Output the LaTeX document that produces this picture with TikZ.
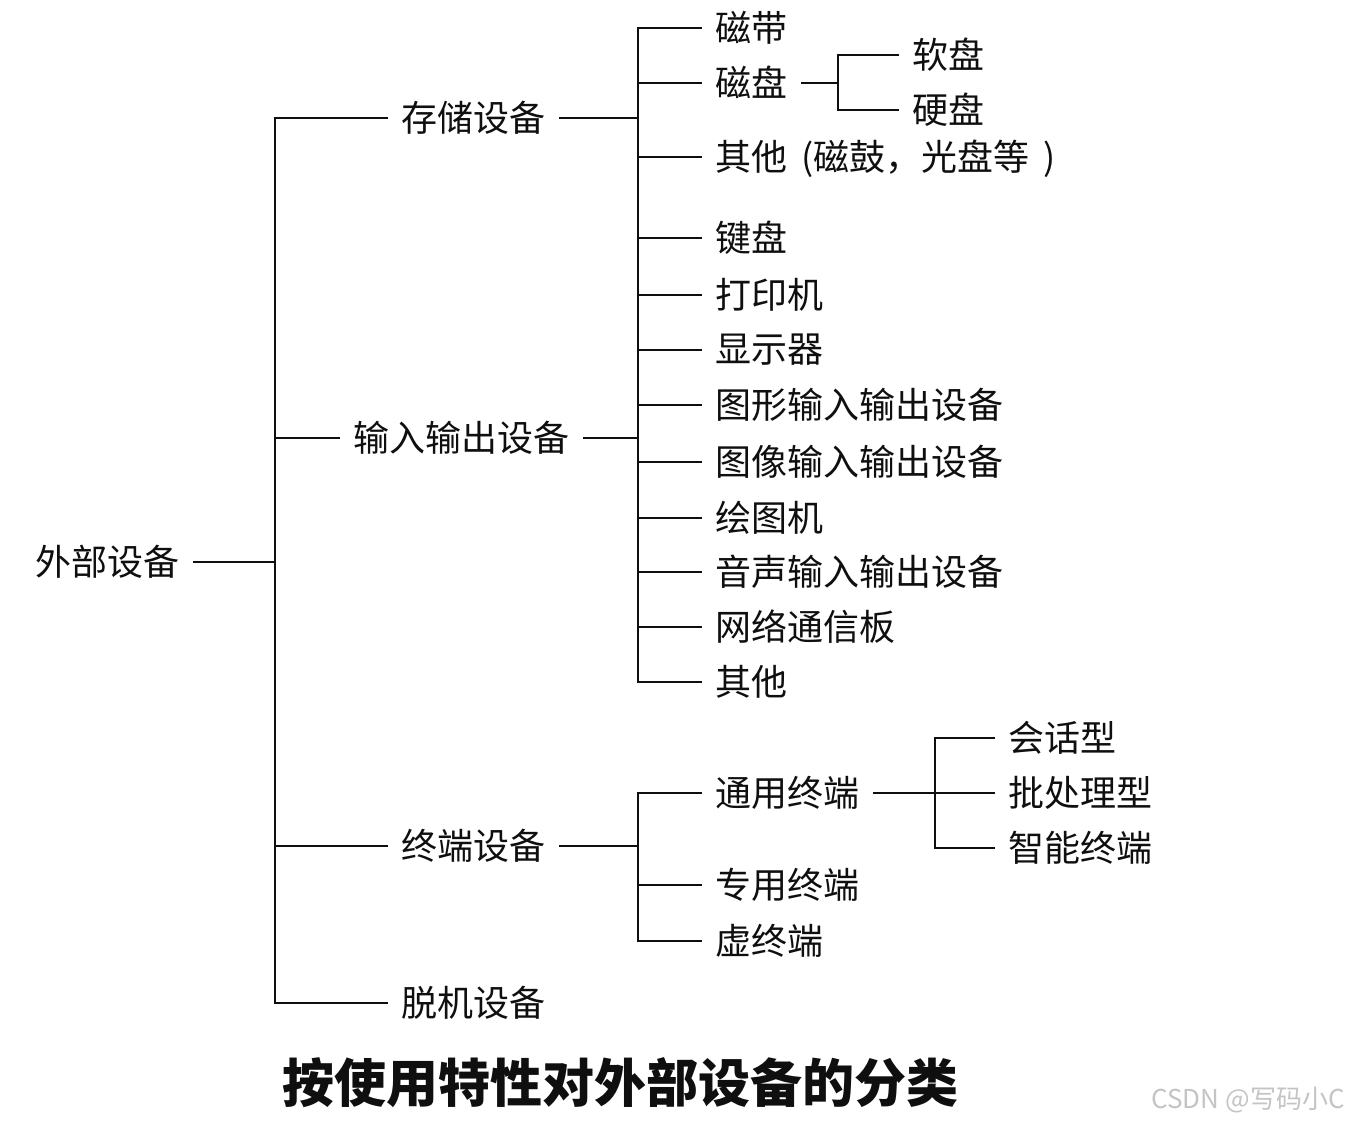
\documentclass[tikz,border=0pt]{standalone}
\usepackage{fontspec}
\newfontfamily\cjk{Noto Sans CJK SC}
\usepackage{xcolor}
\definecolor{ink}{RGB}{15,15,15}
\definecolor{faint}{RGB}{196,196,196}
\usepackage{tikz}
\usetikzlibrary{positioning,calc}

\begin{document}
\begin{tikzpicture}[
  x=0.5pt, y=-0.5pt,
  cat/.style={font=\cjk\fontsize{18}{18}\selectfont, text=ink,
              inner xsep=6.5pt, inner ysep=2pt, text depth=1.5pt},
  leaf/.style={cat, anchor=west},
  link/.style={draw=ink, line width=1.2pt, line join=miter},
  caption/.style={font=\cjk\bfseries\fontsize{26}{26}\selectfont, text=ink},
]
  \useasboundingbox (0,0) rectangle (1350,1122);

  % root and first level
  \node[cat,anchor=east](R) at (193,562) {外部设备};
  \coordinate (T) at (275,562);
  \node[leaf](S) at (388,118)  {存储设备};
  \node[leaf](IO) at (340,438) {输入输出设备};
  \node[leaf](TD) at (388,846) {终端设备};
  \node[leaf](OF) at (388,1003) {脱机设备};

  \draw[link] (R.east) -- (T);
  \draw[link] (S.west) -- (S.west -| T) -- (OF.west -| T) -- (OF.west);
  \draw[link] (IO.west) -- (IO.west -| T);
  \draw[link] (TD.west) -- (TD.west -| T);

  % storage and i/o leaves
  \coordinate (J) at (638,118);
  \node[leaf](A1) at (702,28)  {磁带};
  \node[leaf](A2) at (702,83)  {磁盘};
  \node[leaf](A3) at (702,157) {其他\hspace{3pt} (磁鼓，光盘等\hspace{3pt} )};

  \node[leaf](B1) at (702,238) {键盘};
  \node[leaf](B2) at (702,295) {打印机};
  \node[leaf](B3) at (702,350) {显示器};
  \node[leaf](B4) at (702,405) {图形输入输出设备};
  \node[leaf](B5) at (702,462) {图像输入输出设备};
  \node[leaf](B6) at (702,518) {绘图机};
  \node[leaf](B7) at (702,572) {音声输入输出设备};
  \node[leaf](B8) at (702,627) {网络通信板};
  \node[leaf](B9) at (702,682) {其他};

  \draw[link] (A1.west) -- (A1.west -| J) -- (B9.west -| J) -- (B9.west);
  \draw[link] (S.east) -- (J);
  \draw[link] (IO.east) -- (IO.east -| J);
  \draw[link] (A2.west) -- (A2.west -| J);
  \draw[link] (A3.west) -- (A3.west -| J);
  \draw[link] (B1.west) -- (B1.west -| J);
  \draw[link] (B2.west) -- (B2.west -| J);
  \draw[link] (B3.west) -- (B3.west -| J);
  \draw[link] (B4.west) -- (B4.west -| J);
  \draw[link] (B5.west) -- (B5.west -| J);
  \draw[link] (B6.west) -- (B6.west -| J);
  \draw[link] (B7.west) -- (B7.west -| J);
  \draw[link] (B8.west) -- (B8.west -| J);

  % disk kinds
  \coordinate (M) at (838,83);
  \node[leaf](E1) at (899,55)  {软盘};
  \node[leaf](E2) at (899,110) {硬盘};
  \draw[link] (A2.east) -- (M);
  \draw[link] (E1.west) -- (E1.west -| M) -- (E2.west -| M) -- (E2.west);

  % terminals
  \coordinate (K) at (638,846);
  \node[leaf](C1) at (702,793) {通用终端};
  \node[leaf](C2) at (702,885) {专用终端};
  \node[leaf](C3) at (702,941) {虚终端};
  \draw[link] (TD.east) -- (K);
  \draw[link] (C1.west) -- (C1.west -| K) -- (C3.west -| K) -- (C3.west);
  \draw[link] (C2.west) -- (C2.west -| K);

  \coordinate (N) at (935,793);
  \node[leaf](D1) at (995,738) {会话型};
  \node[leaf](D2) at (995,793) {批处理型};
  \node[leaf](D3) at (995,848) {智能终端};
  \draw[link] (C1.east) -- (D2.west);
  \draw[link] (D1.west) -- (D1.west -| N) -- (D3.west -| N) -- (D3.west);

  % caption and mark
  \node[caption](CAP) at (620,1083) {按使用特性对外部设备的分类};
  \node[anchor=east,font=\cjk\fontsize{13}{13}\selectfont,text=faint,inner sep=0pt]
    (WM) at (1345,1100) {CSDN @写码小C};
\end{tikzpicture}
\end{document}
